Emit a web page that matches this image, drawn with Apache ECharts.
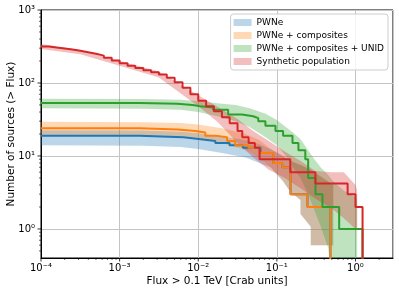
<!DOCTYPE html>
<html>
<head>
<meta charset="utf-8">
<script src="https://cdn.jsdelivr.net/npm/echarts@6/dist/echarts.min.js"></script>
<style>html,body{margin:0;padding:0;background:#fff}#c{width:399px;height:294px}</style>
</head>
<body>
<div id="c"></div>
<script>
// ---------- data ----------
const seriesNames = ['PWNe', 'PWNe + composites', 'PWNe + composites + UNID', 'Synthetic population'];
const colors = ['#1f77b4', '#ff7f0e', '#2ca02c', '#d62728'];
const bandColors = ['rgba(31,119,180,0.3)', 'rgba(255,127,14,0.3)', 'rgba(44,160,44,0.3)', 'rgba(214,39,40,0.3)'];

// step lines: flux threshold and number of sources above it
const blueFlux = [1e-4, 0.0018, 0.0065, 0.0108, 0.0165, 0.025, 0.037, 0.062, 0.09, 0.117, 0.149, 0.245, 0.48];
const blueN    = [19, 18, 17, 16, 15, 14, 13, 11, 8, 7, 3, 2, 0.1];

const orangeFlux = [1e-4, 0.0018, 0.0055, 0.0092, 0.0123, 0.0165, 0.0233, 0.0295, 0.0436, 0.06, 0.09, 0.117, 0.149, 0.245, 0.48];
const orangeN    = [24, 23, 22, 21, 19, 18, 16, 14, 13, 11, 8, 7, 3, 2, 0.1];

const greenFlux = [1e-4, 0.0018, 0.0054, 0.0085, 0.0106, 0.0155, 0.024, 0.036, 0.05, 0.058, 0.0715, 0.096, 0.12, 0.158, 0.188, 0.23, 0.25, 0.31, 0.38, 0.62, 1.23];
const greenN    = [53, 52, 50, 48, 46, 43, 37, 35, 33, 30, 26, 22, 19, 15, 12, 9, 5, 3, 2, 1, 0.1];

const redFlux = [1e-4, 1.26e-4, 1.58e-4, 2e-4, 2.51e-4, 3.16e-4, 3.98e-4, 5.01e-4, 6.31e-4, 7.94e-4,
                 1e-3, 1.26e-3, 1.58e-3, 2e-3, 2.51e-3, 3.16e-3, 3.98e-3, 5.01e-3, 6.31e-3, 7.94e-3,
                 1e-2, 1.26e-2, 1.58e-2, 2e-2, 2.51e-2, 3.16e-2, 3.63e-2, 4.37e-2, 5.25e-2, 6.03e-2,
                 0.148, 0.309, 0.794, 1.0, 1.23];
const redN    = [316, 306, 297, 287, 276, 264, 251, 237, 222, 204,
                 186, 172, 160, 150, 140, 131, 118, 102, 86, 70,
                 57, 48, 41, 34, 28, 22, 18, 15, 13, 9,
                 6, 4.2, 3, 2, 0.1];

// uncertainty bands
const blueBandX  = [1e-4, 2e-3, 6e-3, 1e-2, 2e-2, 4e-2, 6e-2, 8.3e-2, 0.12, 0.149, 0.2, 0.2, 0.27, 0.27, 0.52, 0.521];
const blueBandLo = [14, 13.8, 13.3, 12.5, 11, 9.5, 8, 7, 4.5, 3.2, 2.5, 1.6, 1.07, 0.6, 0.6, 0.1];
const blueBandHi = [22.5, 22.3, 21.5, 20.5, 18.5, 16.5, 14.5, 12.5, 10, 8.5, 7.5, 7.5, 6.5, 6.5, 4, 4];

const orangeBandX  = [1e-4, 2e-3, 6e-3, 1e-2, 2e-2, 4e-2, 6e-2, 8.3e-2, 0.12, 0.149, 0.2, 0.2, 0.27, 0.27, 0.52, 0.521];
const orangeBandLo = [19.5, 19.2, 18.7, 17.5, 15, 12, 9.5, 7, 4.5, 3.2, 2.5, 1.6, 1.07, 0.6, 0.6, 0.1];
const orangeBandHi = [29.5, 29, 28.3, 27, 24, 20, 16.5, 12.5, 10, 8.5, 7.5, 7.5, 6.5, 6.5, 4, 4];

const greenBandX  = [1e-4, 2e-3, 6e-3, 1e-2, 2e-2, 3e-2, 4.5e-2, 7.2e-2, 0.1, 0.13, 0.16, 0.2, 0.25, 0.3, 0.36, 0.45, 0.52, 0.7, 1.0, 1.05];
const greenBandLo = [45, 44.5, 43, 40, 34, 30, 25, 18, 14, 10, 7, 5, 3, 1.8, 1.1, 0.55, 0.1, 0.1, 0.1, 0.1];
const greenBandHi = [61, 60.5, 59, 56, 52, 50, 45, 38, 31, 25, 21, 17, 12, 9, 7, 5.5, 4.5, 3.4, 2.7, 2.5];

const redBandX  = [1e-4, 3.16e-4, 1e-3, 3.16e-3, 1e-2, 1.78e-2, 3.16e-2, 5e-2, 7.9e-2, 0.126, 0.2, 0.309, 0.5, 0.71, 1.0, 1.05];
const redBandLo = [292, 247, 172, 119, 48, 29, 15, 9.5, 6.5, 5, 3.6, 2.6, 1.9, 1.4, 1.0, 1.0];
const redBandHi = [342, 283, 200, 144, 68, 47, 32, 22, 16, 11.5, 8.5, 6.2, 6, 6, 4, 3.4];

const xTickValues = [1e-4, 1e-3, 1e-2, 1e-1, 1];
const yTickValues = [1, 10, 100, 1000];
const xName = 'Flux > 0.1 TeV [Crab units]';
const yName = 'Number of sources (> Flux)';

// ---------- helpers ----------
const FONT = 'DejaVu Sans';
const sup = {'-':'\u207b','0':'\u2070','1':'\u00b9','2':'\u00b2','3':'\u00b3','4':'\u2074','5':'\u2075','6':'\u2076','7':'\u2077','8':'\u2078','9':'\u2079'};
function powLabel(v) {
  const l = Math.log10(v);
  const e = Math.round(l);
  if (Math.abs(l - e) > 1e-6) return '';
  return '10' + String(e).split('').map(c => sup[c]).join('');
}
function pairs(xs, ys) { return xs.map((x, i) => [x, ys[i]]); }
function bandSeries(idx, xs, lo, hi) {
  return {
    type: 'custom', name: seriesNames[idx], clip: true, z: 1,
    itemStyle: { color: bandColors[idx] },
    data: [[xs[0], hi[0]]],
    renderItem: function (params, api) {
      const pts = [];
      for (let i = 0; i < xs.length; i++) pts.push(api.coord([xs[i], hi[i]]));
      for (let i = xs.length - 1; i >= 0; i--) pts.push(api.coord([xs[i], lo[i]]));
      return { type: 'polygon', shape: { points: pts }, style: { fill: bandColors[idx] } };
    }
  };
}
function lineSeries(idx, xs, ys) {
  return {
    type: 'line', name: seriesNames[idx] + ' ', step: 'end', z: 3,
    showSymbol: false, symbol: 'none', clip: true,
    lineStyle: { color: colors[idx], width: 2 }, itemStyle: { color: colors[idx] },
    data: pairs(xs, ys), animation: false
  };
}
const xMin = 1e-4, xMax = 3, yMin = 0.4, yMax = 1000;
const xMinor = [], yMinor = [];
for (let k = -4; k <= 0; k++) for (let m = 2; m <= 9; m++) { const v = m * Math.pow(10, k); if (v < xMax) xMinor.push(v); }
for (let k = -1; k <= 2; k++) for (let m = 2; m <= 9; m++) { const v = m * Math.pow(10, k); if (v > yMin && v < yMax) yMinor.push(v); }

const tickSeries = {
  type: 'custom', name: 'ticks', silent: true, clip: false, z: 5,
  data: [[1, 1]],
  renderItem: function (params, api) {
    const cs = params.coordSys;
    const bottom = cs.y + cs.height, left = cs.x;
    const children = [];
    const st = { stroke: '#000', lineWidth: 0.8 };
    xTickValues.forEach(v => { const p = api.coord([v, 1]); children.push({ type: 'line', shape: { x1: p[0], y1: bottom, x2: p[0], y2: bottom + 3.5 }, style: st }); });
    xMinor.forEach(v => { const p = api.coord([v, 1]); children.push({ type: 'line', shape: { x1: p[0], y1: bottom, x2: p[0], y2: bottom + 2 }, style: { stroke: '#000', lineWidth: 0.6 } }); });
    yTickValues.forEach(v => { const p = api.coord([1, v]); children.push({ type: 'line', shape: { x1: left - 3.5, y1: p[1], x2: left, y2: p[1] }, style: st }); });
    yMinor.forEach(v => { const p = api.coord([1, v]); children.push({ type: 'line', shape: { x1: left - 2, y1: p[1], x2: left, y2: p[1] }, style: { stroke: '#000', lineWidth: 0.6 } }); });
    return { type: 'group', children: children };
  }
};

const chart = echarts.init(document.getElementById('c'), null, { renderer: 'canvas' });
chart.setOption({
  animation: false,
  textStyle: { fontFamily: FONT },
  grid: { left: 41, right: 6, top: 10, bottom: 36, show: true, borderColor: '#000', borderWidth: 1, backgroundColor: 'transparent', containLabel: false, outerBoundsMode: 'none' },
  legend: {
    orient: 'vertical', right: 11, top: 14, align: 'left',
    icon: 'rect', itemWidth: 18, itemHeight: 7, itemGap: 4,
    padding: [4, 4, 4, 3],
    backgroundColor: 'rgba(255,255,255,0.8)', borderColor: '#cccccc', borderWidth: 1, borderRadius: 3,
    textStyle: { fontFamily: FONT, fontSize: 9, color: '#000' },
    data: seriesNames.map((n, i) => ({ name: n, itemStyle: { color: bandColors[i] } }))
  },
  xAxis: {
    type: 'log', logBase: 10, min: xMin, max: xMax,
    name: xName, nameLocation: 'middle', nameGap: 18, nameMoveOverlap: false,
    nameTextStyle: { fontFamily: FONT, fontSize: 10.5, color: '#000' },
    axisLine: { show: true, lineStyle: { color: '#000', width: 1 } },
    axisTick: { show: false },
    axisLabel: { formatter: powLabel, fontFamily: FONT, fontSize: 10, color: '#000', margin: 5, showMinLabel: true, showMaxLabel: true },
    splitLine: { show: true, lineStyle: { color: '#c4c4c4', width: 1 } },
    minorTick: { show: false }, minorSplitLine: { show: false }
  },
  yAxis: {
    type: 'log', logBase: 10, min: yMin, max: yMax,
    name: yName, nameLocation: 'middle', nameGap: 24, nameRotate: 90, nameMoveOverlap: false,
    nameTextStyle: { fontFamily: FONT, fontSize: 10.5, color: '#000' },
    axisLine: { show: true, lineStyle: { color: '#000', width: 1 } },
    axisTick: { show: false },
    axisLabel: { formatter: powLabel, fontFamily: FONT, fontSize: 10, color: '#000', margin: 6 },
    splitLine: { show: true, lineStyle: { color: '#c4c4c4', width: 1 } },
    minorTick: { show: false }, minorSplitLine: { show: false }
  },
  series: [
    bandSeries(0, blueBandX, blueBandLo, blueBandHi),
    bandSeries(1, orangeBandX, orangeBandLo, orangeBandHi),
    bandSeries(2, greenBandX, greenBandLo, greenBandHi),
    bandSeries(3, redBandX, redBandLo, redBandHi),
    lineSeries(0, blueFlux, blueN),
    lineSeries(1, orangeFlux, orangeN),
    lineSeries(2, greenFlux, greenN),
    lineSeries(3, redFlux, redN),
    tickSeries
  ]
});
</script>
</body>
</html>
